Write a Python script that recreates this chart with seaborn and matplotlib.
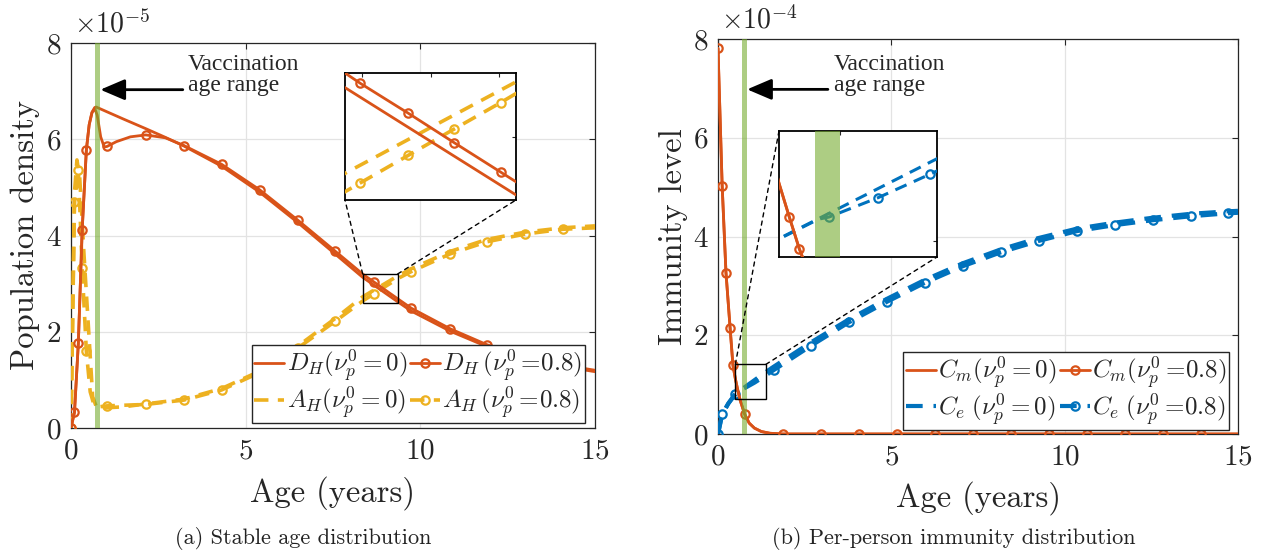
import numpy as np
import matplotlib
matplotlib.use("Agg")
import matplotlib.pyplot as plt
import seaborn as sns
from matplotlib.lines import Line2D
from matplotlib.patches import Rectangle, ConnectionPatch

# ---------------- data (left panel, units of 1e-5) ----------------
DH0_age = [0, 0.1, 0.21, 0.32, 0.44, 0.52, 0.6, 0.68, 0.72, 1.0, 1.5, 2.14, 2.7, 3.23, 4.31, 5.4,
           6.49, 7.57, 8.35, 9.35, 9.74, 10.86, 11.91, 13.0, 14.08, 15]
DH0_val = [0, 0.33, 1.76, 4.12, 5.78, 6.3, 6.56, 6.66, 6.67, 6.58, 6.42, 6.22, 6.04, 5.86, 5.44, 4.9,
           4.27, 3.61, 3.131, 2.624, 2.43, 2.01, 1.69, 1.45, 1.28, 1.17]

DH08_age = [0, 0.1, 0.21, 0.32, 0.44, 0.52, 0.6, 0.68, 0.75, 0.85, 0.95, 1.03, 1.3, 1.7, 2.14, 2.7,
            3.23, 4.31, 5.4, 6.49, 7.57, 8.35, 8.44, 8.66, 8.72, 8.99, 9.26, 9.35, 9.74, 10.86,
            11.91, 13.0, 14.08, 15]
DH08_val = [0, 0.33, 1.76, 4.12, 5.78, 6.3, 6.55, 6.64, 6.5, 6.05, 5.84, 5.85, 5.95, 6.05, 6.09, 6.03,
            5.87, 5.48, 4.95, 4.32, 3.67, 3.2, 3.151, 3.04, 3.01, 2.87, 2.732, 2.686, 2.49, 2.06,
            1.73, 1.48, 1.31, 1.2]

AH0_age = [0, 0.05, 0.1, 0.17, 0.25, 0.37, 0.51, 0.62, 0.72, 1.0, 1.5, 2.14, 3.23, 4.31, 5.4, 6.49,
           7.57, 8.35, 9.35, 9.74, 10.86, 11.91, 13.0, 14.08, 15]
AH0_val = [0, 2.5, 4.9, 5.57, 5.2, 3.63, 1.97, 0.65, 0.45, 0.42, 0.44, 0.5, 0.6, 0.82, 1.18, 1.7,
           2.28, 2.726, 3.158, 3.31, 3.67, 3.92, 4.07, 4.16, 4.2]

AH08_age = [0, 0.1, 0.21, 0.32, 0.44, 0.55, 0.65, 0.8, 1.03, 2.14, 3.23, 4.31, 5.4, 6.49, 7.57, 8.35,
            8.44, 8.66, 8.72, 8.99, 9.26, 9.35, 9.74, 10.86, 11.91, 13.0, 14.08, 15]
AH08_val = [0, 4.7, 5.36, 3.32, 1.59, 0.75, 0.5, 0.44, 0.46, 0.49, 0.58, 0.79, 1.15, 1.66, 2.22, 2.639,
            2.681, 2.783, 2.811, 2.936, 3.06, 3.103, 3.25, 3.62, 3.87, 4.03, 4.13, 4.16]

left_marks = [0, 0.1, 0.21, 0.32, 0.44, 1.03, 2.14, 3.23, 4.31, 5.4, 6.49, 7.57, 8.66, 9.74,
              10.86, 11.91, 13.0, 14.08]
left_inset_marks = [8.44, 8.72, 8.99, 9.26]

# ---------------- data (right panel, units of 1e-4) ----------------
Cm0_age = [0, 0.12, 0.23, 0.35, 0.43, 0.5, 0.558, 0.613, 0.65, 0.77, 0.9, 1.05, 1.25, 1.5, 1.87, 15]
Cm0_val = [7.81, 5.03, 3.27, 2.14, 1.40, 1.12, 0.93, 0.756, 0.66, 0.40, 0.22, 0.12, 0.05, 0.015, 0, 0]

Cm08_age = [0, 0.12, 0.23, 0.35, 0.43, 0.5, 0.558, 0.613, 0.65, 0.77, 0.9, 1.05, 1.25, 1.5, 1.87,
            2.96, 4.06, 5.15, 6.25, 7.35, 8.44, 9.54, 10.63, 11.73, 12.83, 13.92, 15]
Cm08_val = [7.81, 5.03, 3.27, 2.14, 1.40, 1.12, 0.93, 0.756, 0.66, 0.40, 0.22, 0.12, 0.05, 0.015, 0,
            0, 0, 0, 0, 0, 0, 0, 0, 0, 0, 0, 0]
right_cm_marks = [0, 0.12, 0.23, 0.35, 0.43, 0.77, 1.87, 2.96, 4.06, 5.15, 6.25, 7.35, 8.44, 9.54,
                  10.63, 11.73, 12.83, 13.92]
right_cm_inset_marks = [0.558, 0.613]

Ce0_age = [0, 0.12, 0.3, 0.5, 0.72, 1.0, 1.38, 1.62, 2.69, 3.77, 4.88, 5.96, 7.07, 8.16, 9.25,
           10.36, 11.44, 12.54, 13.64, 14.71, 15]
Ce0_val = [0, 0.40, 0.62, 0.812, 0.923, 1.064, 1.256, 1.37, 1.86, 2.32, 2.74, 3.12, 3.46, 3.74, 3.97,
           4.16, 4.28, 4.38, 4.46, 4.51, 4.52]

Ce08_age = [0, 0.12, 0.3, 0.5, 0.72, 0.778, 1.053, 1.339, 1.62, 2.69, 3.77, 4.88, 5.96, 7.07, 8.16,
            9.25, 10.36, 11.44, 12.54, 13.64, 14.71, 15]
Ce08_val = [0, 0.40, 0.62, 0.81, 0.92, 0.932, 1.04, 1.169, 1.30, 1.79, 2.26, 2.68, 3.06, 3.40, 3.68,
            3.91, 4.11, 4.23, 4.33, 4.41, 4.47, 4.48]
right_ce_marks = [0, 0.12, 0.5, 1.62, 2.69, 3.77, 4.88, 5.96, 7.07, 8.16, 9.25, 10.36, 11.44, 12.54,
                  13.64, 14.71]
right_ce_inset_marks = [0.778, 1.053, 1.339]

vacc_range = (0.7, 0.84)
xticks = [0, 5, 10, 15]
yticks = [0, 2, 4, 6, 8]

OR = "#D95319"
YE = "#EDB120"
BL = "#0072BD"
GR = (0.466, 0.674, 0.188)
AXC = "#262626"
DASH = (0, (4, 2.6))

sns.set_style("white")
plt.rcParams.update({
    "font.family": ["cmr10"],
    "mathtext.fontset": "cm",
    "axes.formatter.use_mathtext": True,
    "axes.unicode_minus": False,
})

fig = plt.figure(figsize=(12.62, 5.55), dpi=100)
W, H = 1262, 555


def px_axes(l, t, r, b):
    return fig.add_axes([l / W, 1 - b / H, (r - l) / W, (b - t) / H])


def draw(ax, age, val, color, ls, lw, marks=None, ms=6.0, z=3):
    kw = {}
    if marks is not None:
        a = np.asarray(age, dtype=float)
        idx = [int(np.argmin(np.abs(a - m))) for m in marks]
        kw = dict(marker="o", markevery=idx, markerfacecolor="none", markeredgecolor=color,
                  markersize=ms, markeredgewidth=1.6)
    sns.lineplot(x=age, y=val, ax=ax, color=color, linewidth=lw, linestyle=ls, legend=False,
                 sort=False, estimator=None, zorder=z, **kw)


def style_main(ax):
    ax.set_xlim(0, 15)
    ax.set_ylim(0, 8)
    ax.set_xticks(xticks)
    ax.set_yticks(yticks)
    ax.grid(True, color="#e3e3e3", lw=0.9)
    ax.set_axisbelow(True)
    ax.tick_params(direction="in", length=4, width=0.8, top=True, right=True, labelsize=21,
                   colors=AXC, pad=7)
    for s in ax.spines.values():
        s.set_color(AXC)
        s.set_linewidth(0.9)
    ax.set_xlabel("Age (years)", fontsize=23.5, color=AXC)


def style_inset(ax, xl, yl, xt, yt):
    ax.set_xlim(*xl)
    ax.set_ylim(*yl)
    ax.set_xticks(xt)
    ax.set_yticks(yt)
    ax.set_xticklabels([])
    ax.set_yticklabels([])
    ax.set_xlabel("")
    ax.set_ylabel("")
    ax.grid(False)
    ax.tick_params(direction="in", length=3, width=0.8, top=True, right=True)
    for s in ax.spines.values():
        s.set_color("black")
        s.set_linewidth(1.3)


def legend(ax, handles, labels, anchor):
    lg = ax.legend(handles, labels, ncol=2, loc="lower right", bbox_to_anchor=anchor, fontsize=18,
                   handlelength=1.2, handletextpad=0.1, columnspacing=0.1, borderpad=0.1,
                   labelspacing=0.0, frameon=True, fancybox=False, edgecolor=AXC, framealpha=1,
                   borderaxespad=0)
    lg.get_frame().set_linewidth(1.0)
    lg.set_zorder(10)


def annot(ax, tip, tail, txt):
    ax.annotate("", xy=tip, xytext=tail,
                arrowprops=dict(arrowstyle="-|>,head_length=0.75,head_width=0.32", color="black",
                                lw=2.0, mutation_scale=20, shrinkA=0, shrinkB=0), zorder=6)
    ax.text(txt[0], txt[1], "Vaccination\nage range", fontsize=17, family="Liberation Serif",
            ha="left", va="center", linespacing=1.0, zorder=6)


# ================= left panel =================
ax1 = px_axes(71, 43, 595, 428)
draw(ax1, AH0_age, AH0_val, YE, DASH, 2.6)
draw(ax1, AH08_age, AH08_val, YE, DASH, 2.6, left_marks)
draw(ax1, DH0_age, DH0_val, OR, "-", 2.0)
draw(ax1, DH08_age, DH08_val, OR, "-", 2.0, left_marks)
ax1.axvspan(*vacc_range, color=GR, alpha=0.6, lw=0, zorder=4)
style_main(ax1)
ax1.set_ylabel("Population density", fontsize=23.5, color=AXC)
ax1.yaxis.set_label_coords(-0.06, 0.5)
ax1.xaxis.set_label_coords(0.5, -0.125)
ax1.text(0.005, 1.012, r"$\times10^{-5}$", transform=ax1.transAxes, fontsize=20, color=AXC,
         ha="left", va="bottom")
ax1.add_patch(Rectangle((8.35, 2.6), 1.0, 0.6, fill=False, ec="black", lw=1.0, zorder=7))
annot(ax1, (0.84, 7.03), (3.2, 7.03), (3.35, 7.33))

hL = [Line2D([], [], color=OR, lw=2.0),
      Line2D([], [], color=YE, lw=2.6, ls=DASH),
      Line2D([], [], color=OR, lw=2.0, marker="o", mfc="none", mec=OR, ms=6, mew=1.6),
      Line2D([], [], color=YE, lw=2.6, ls=DASH, marker="o", mfc="none", mec=YE, ms=6, mew=1.6)]
lL = [r"$D_H(\nu_p^0=0)$", r"$A_H(\nu_p^0=0)$", r"$D_H\,(\nu_p^0=\!0.8)$", r"$A_H\,(\nu_p^0=\!0.8)$"]
legend(ax1, hL, lL, (0.981, 0.012))

ins1 = px_axes(345, 73, 516, 200)
draw(ins1, AH0_age, AH0_val, YE, DASH, 2.6)
draw(ins1, AH08_age, AH08_val, YE, DASH, 2.6, left_inset_marks)
draw(ins1, DH0_age, DH0_val, OR, "-", 2.0)
draw(ins1, DH08_age, DH08_val, OR, "-", 2.0, left_inset_marks)
style_inset(ins1, (8.35, 9.35), (2.6, 3.2), [8.45, 8.85, 9.25], [2.9])
ins1.set_facecolor("white")

for pA, pB in [((8.35, 3.2), (0, 0)), ((9.35, 3.2), (1, 0))]:
    cp = ConnectionPatch(xyA=pA, coordsA=ax1.transData, xyB=pB, coordsB=ins1.transAxes,
                         ls=(0, (3, 3)), color="black", lw=1.0, zorder=8)
    fig.add_artist(cp)

# ================= right panel =================
ax2 = px_axes(718, 39, 1238, 434)
draw(ax2, Ce0_age, Ce0_val, BL, DASH, 3.0)
draw(ax2, Ce08_age, Ce08_val, BL, DASH, 3.0, right_ce_marks)
draw(ax2, Cm0_age, Cm0_val, OR, "-", 2.0)
draw(ax2, Cm08_age, Cm08_val, OR, "-", 2.0, right_cm_marks)
ax2.axvspan(*vacc_range, color=GR, alpha=0.6, lw=0, zorder=4)
style_main(ax2)
ax2.set_ylabel("Immunity level", fontsize=23.5, color=AXC)
ax2.yaxis.set_label_coords(-0.058, 0.5)
ax2.xaxis.set_label_coords(0.5, -0.12)
ax2.text(0.005, 1.012, r"$\times10^{-4}$", transform=ax2.transAxes, fontsize=20, color=AXC,
         ha="left", va="bottom")
ax2.add_patch(Rectangle((0.5, 0.71), 0.88, 0.70, fill=False, ec="black", lw=1.0, zorder=7))
annot(ax2, (0.84, 6.98), (3.17, 6.98), (3.35, 7.27))

hR = [Line2D([], [], color=OR, lw=2.0),
      Line2D([], [], color=BL, lw=3.0, ls=DASH),
      Line2D([], [], color=OR, lw=2.0, marker="o", mfc="none", mec=OR, ms=6, mew=1.6),
      Line2D([], [], color=BL, lw=3.0, ls=DASH, marker="o", mfc="none", mec=BL, ms=6, mew=1.6)]
lR = [r"$C_m(\nu_p^0=0)$", r"$C_e\;(\nu_p^0=0)$", r"$C_m(\nu_p^0=\!0.8)$", r"$C_e\;(\nu_p^0=\!0.8)$"]
legend(ax2, hR, lR, (0.983, 0.01))

ins2 = px_axes(779, 131, 937, 257)
draw(ins2, Ce0_age, Ce0_val, BL, DASH, 2.2)
draw(ins2, Ce08_age, Ce08_val, BL, DASH, 2.2, right_ce_inset_marks)
draw(ins2, Cm0_age, Cm0_val, OR, "-", 2.0)
draw(ins2, Cm08_age, Cm08_val, OR, "-", 2.0, right_cm_inset_marks)
ins2.axvspan(*vacc_range, color=GR, alpha=0.6, lw=0, zorder=4)
style_inset(ins2, (0.5, 1.38), (0.71, 1.41), [0.84], [0.8])
ins2.set_facecolor("white")

for pA, pB in [((0.5, 1.41), (0, 1)), ((1.38, 1.41), (1, 0))]:
    cp = ConnectionPatch(xyA=pA, coordsA=ax2.transData, xyB=pB, coordsB=ins2.transAxes,
                         ls=(0, (3, 3)), color="black", lw=1.0, zorder=8)
    fig.add_artist(cp)

fig.text(303 / W, 1 - 538 / H, "(a) Stable age distribution", ha="center", va="center",
         fontsize=16, color="#222222")
fig.text(954 / W, 1 - 538 / H, "(b) Per-person immunity distribution", ha="center", va="center",
         fontsize=16, color="#222222")

fig.savefig("out.png", dpi=100)
